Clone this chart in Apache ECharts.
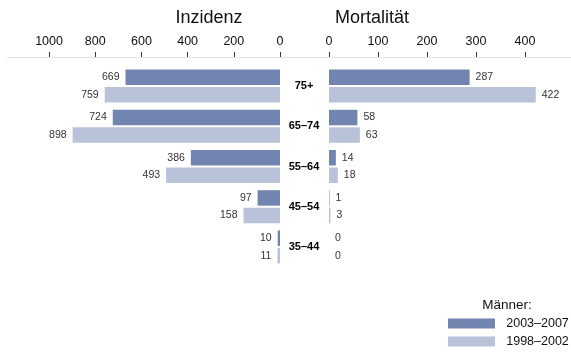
<!DOCTYPE html>
<html>
<head>
<meta charset="utf-8">
<script src="https://cdn.jsdelivr.net/npm/echarts@6/dist/echarts.min.js"></script>
<style>html,body{margin:0;padding:0;background:#fff;}#c{width:571px;height:352px;}</style>
</head>
<body>
<div id="c"></div>
<script>
var categories = ['75+', '65–74', '55–64', '45–54', '35–44'];
var seriesNames = ['2003–2007', '1998–2002'];
var inzidenz2003 = [669, 724, 386, 97, 10];
var inzidenz1998 = [759, 898, 493, 158, 11];
var mortalitaet2003 = [287, 58, 14, 1, 0];
var mortalitaet1998 = [422, 63, 18, 3, 0];
var inzidenzTicks = [0, 200, 400, 600, 800, 1000];
var mortalitaetTicks = [0, 100, 200, 300, 400];

var FONT = 'Liberation Sans, Arial, Helvetica, sans-serif';
var DARK = '#7284b0', LIGHT = '#b8c3d9';

var chart = echarts.init(document.getElementById('c'), null, {renderer: 'canvas'});

function axisX(gridIndex, max, ticks, inverse) {
  return {
    type: 'value', gridIndex: gridIndex, position: 'top', offset: 9,
    min: 0, max: max, inverse: inverse,
    splitLine: {show: false},
    axisLine: {show: false},
    axisTick: {show: true, length: 5, lineStyle: {color: '#333', width: 1}, customValues: ticks},
    axisLabel: {show: true, margin: 9, fontSize: 12.5, color: '#111', fontFamily: FONT, customValues: ticks,
                formatter: function (v) { return String(v); }}
  };
}

function bar(name, data, xi, color, pos) {
  return {
    type: 'bar', name: name, xAxisIndex: xi, yAxisIndex: xi,
    data: data, barWidth: 15.5, barGap: '13%',
    itemStyle: {color: color},
    label: {show: true, position: pos, distance: 6, fontSize: 10.5, color: '#333', fontFamily: FONT},
    emphasis: {disabled: true}, animation: false
  };
}

chart.setOption({
  animation: false,
  textStyle: {fontFamily: FONT},
  grid: [
    {left: 7, width: 273, top: 66, height: 201},
    {left: 329, width: 242, top: 66, height: 201}
  ],
  xAxis: [
    axisX(0, 1182, inzidenzTicks, true),
    axisX(1, 494, mortalitaetTicks, false)
  ],
  yAxis: [
    {type: 'category', gridIndex: 0, data: categories, inverse: true,
     axisLine: {show: false}, axisTick: {show: false}, axisLabel: {show: false}},
    {type: 'category', gridIndex: 1, data: categories, inverse: true,
     axisLine: {show: false}, axisTick: {show: false},
     axisLabel: {show: true, align: 'center', margin: 25, fontSize: 11, fontWeight: 'bold', color: '#000', fontFamily: FONT}}
  ],
  legend: {
    orient: 'vertical', left: 448, top: 317, padding: 0, itemWidth: 47, itemHeight: 10, itemGap: 5,
    icon: 'rect', selectedMode: false,
    data: seriesNames,
    formatter: function (n) { return '\u2002' + n; },
    textStyle: {fontSize: 12.5, color: '#111', fontFamily: FONT}
  },
  graphic: [
    {type: 'line', shape: {x1: 7, y1: 57.5, x2: 571, y2: 57.5}, style: {stroke: '#e3e3e3', lineWidth: 1}, silent: true},
    {type: 'text', x: 209, y: 18, style: {text: 'Inzidenz', fill: '#111', font: '18px ' + FONT, textAlign: 'center', textVerticalAlign: 'middle'}},
    {type: 'text', x: 372, y: 18, style: {text: 'Mortalität', fill: '#111', font: '18px ' + FONT, textAlign: 'center', textVerticalAlign: 'middle'}},
    {type: 'text', x: 507, y: 305, style: {text: 'Männer:', fill: '#111', font: '13.5px ' + FONT, textAlign: 'center', textVerticalAlign: 'middle'}}
  ],
  series: [
    bar(seriesNames[0], inzidenz2003, 0, DARK, 'left'),
    bar(seriesNames[1], inzidenz1998, 0, LIGHT, 'left'),
    bar(seriesNames[0], mortalitaet2003, 1, DARK, 'right'),
    bar(seriesNames[1], mortalitaet1998, 1, LIGHT, 'right')
  ]
});
</script>
</body>
</html>
